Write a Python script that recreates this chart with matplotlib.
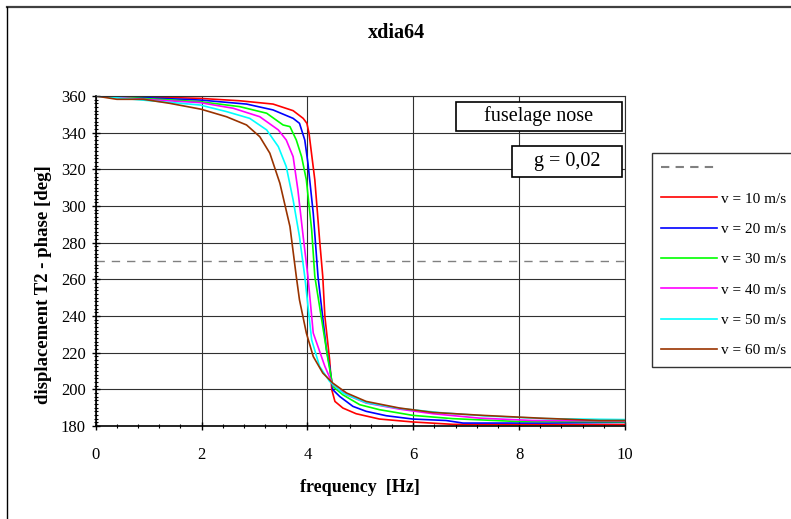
import numpy as np
import matplotlib
matplotlib.use('Agg')
import matplotlib.pyplot as plt
from matplotlib.lines import Line2D
from matplotlib.patches import Rectangle
from matplotlib.ticker import MultipleLocator

plt.rcParams['font.family'] = ['Liberation Serif', 'DejaVu Serif']

# valeurs (frequence en Hz, phase en deg)
f_10 = [0, 1.0, 1.97, 2.72, 3.35, 3.73, 3.92, 3.99, 4.03, 4.14, 4.23, 4.29, 4.33, 4.42, 4.46,
        4.52, 4.67, 4.92, 5.36, 5.99, 6.75, 8.0, 10]
p_10 = [360, 359.5, 358.7, 357.4, 355.6, 352, 347.8, 345.1, 339.7, 314.2, 281.5, 261.5, 239.7, 216, 199.8,
        193.4, 189.8, 186.7, 183.8, 182.2, 180.9, 180.8, 180.8]

f_20 = [0, 1.0, 1.97, 2.85, 3.35, 3.73, 3.85, 3.95, 4.01, 4.11, 4.2, 4.36, 4.42, 4.48,
        4.61, 4.86, 5.11, 5.49, 5.99, 6.62, 6.94, 8.5, 10]
p_20 = [360, 359, 357.8, 355.6, 352.4, 347.8, 345.1, 336, 323.3, 296, 261.5, 221.6, 212.5, 199.8,
        196.1, 190.7, 188, 185.6, 183.8, 183, 181.6, 181.6, 182]

f_30 = [0, 1.0, 1.97, 2.72, 3.23, 3.54, 3.67, 3.79, 3.89, 3.98, 4.08, 4.14, 4.26, 4.39, 4.48,
        4.67, 4.99, 5.36, 5.99, 6.75, 7.94, 10]
p_30 = [360, 358.5, 356.9, 354.2, 350.6, 344.2, 343.3, 336, 326.9, 314.2, 287, 261.5, 239.7, 216, 201.6,
        197, 191.6, 188.9, 185.8, 184, 182.5, 182.3]

f_40 = [0, 1.0, 1.97, 2.6, 3.1, 3.45, 3.6, 3.73, 3.82, 3.92, 4.01, 4.11, 4.33, 4.48,
        4.74, 5.11, 5.74, 6.37, 7.25, 8.25, 10]
p_40 = [360, 358, 356.4, 353.3, 348.7, 341.5, 336, 326.9, 308.8, 283.3, 261.5, 230.7, 212.5, 202.5,
        197, 192.5, 189.2, 186.7, 184.3, 183, 182.8]

f_50 = [0, 1.0, 1.97, 2.47, 2.91, 3.23, 3.45, 3.6, 3.73, 3.85, 3.95, 4.08, 4.23, 4.42,
        4.67, 5.11, 5.74, 6.5, 7.37, 8.51, 10]
p_50 = [360, 357.5, 355.1, 351.5, 347.8, 341.5, 332.4, 321.5, 303.3, 283.3, 261.5, 227, 212.5, 204.3,
        198, 192.7, 189.6, 187.3, 185.5, 184, 183.5]

f_60 = [0, 0.4, 0.9, 1.4, 1.99, 2.47, 2.85, 3.1, 3.29, 3.48, 3.67, 3.79, 3.85, 3.98, 4.11, 4.29,
        4.48, 4.74, 5.11, 5.74, 6.37, 7.31, 8.38, 9.51, 10]
p_60 = [360, 358.2, 358.2, 356, 352.8, 348.7, 344.2, 337.8, 328.8, 312.4, 288.8, 261.5, 248.8, 230.7, 217.9, 208.9,
        203.4, 198, 193.4, 189.8, 187.4, 185.8, 184.3, 183, 183]

labels = ['v = 10 m/s', 'v = 20 m/s', 'v = 30 m/s', 'v = 40 m/s', 'v = 50 m/s', 'v = 60 m/s']
colors = ['#FF0000', '#0000FF', '#00FF00', '#FF00FF', '#00FFFF', '#993300']
phase_ref = 270

W, H = 791, 519
fig = plt.figure(figsize=(W / 100, H / 100), dpi=100)

def fx(px):
    return px / W

def fy(py):
    return 1 - py / H

ax = fig.add_axes([fx(95.7), fy(426), fx(625) - fx(95.7), fy(96) - fy(426)])

ax.axhline(phase_ref, color='#808080', lw=1.0, dashes=(6, 5))
series = [(f_10, p_10), (f_20, p_20), (f_30, p_30), (f_40, p_40), (f_50, p_50), (f_60, p_60)]
handles = [Line2D([], [], color='#808080', lw=1.5, dashes=(4, 3))]
for (f, p), lab, c in zip(series, labels, colors):
    l, = ax.plot(f, p, color=c, lw=1.2, label=lab)
    handles.append(l)

ax.set_xlim(0, 10)
ax.set_ylim(180, 360)
ax.xaxis.set_major_locator(MultipleLocator(2))
ax.xaxis.set_minor_locator(MultipleLocator(0.4))
ax.yaxis.set_major_locator(MultipleLocator(20))
ax.yaxis.set_minor_locator(MultipleLocator(2))
ax.grid(True, which='major', color='#303030', lw=0.8)
ax.tick_params(which='major', direction='inout', length=6, width=1, labelsize=12)
ax.tick_params(which='minor', direction='inout', length=3, width=0.8)
ax.tick_params(axis='x', which='major', pad=12)
ax.tick_params(axis='y', which='major', pad=4)
for s in ['top', 'right']:
    ax.spines[s].set_color('#303030')
    ax.spines[s].set_linewidth(0.8)
for s in ['left', 'bottom']:
    ax.spines[s].set_linewidth(1.2)

ax.set_xlabel('frequency  [Hz]', fontweight='bold', fontsize=13, labelpad=12)
ax.set_ylabel('displacement T2 - phase [deg]', fontweight='bold', fontsize=13.5, va='center')
ax.yaxis.set_label_coords(-0.099, 0.427)
fig.text(fx(396), fy(33), 'xdia64', ha='center', va='center', fontweight='bold', fontsize=14.5)

# boites de texte
for (x0, y0, x1, y1), txt in [((456, 102, 622, 131), 'fuselage nose'),
                              ((512, 146, 622, 177), 'g = 0,02')]:
    fig.patches.append(Rectangle((fx(x0), fy(y1)), fx(x1) - fx(x0), fy(y0) - fy(y1),
                                 transform=fig.transFigure, fc='white', ec='black', lw=1.2))
    fig.text(fx((x0 + x1) / 2), fy((y0 + y1) / 2), txt, ha='center', va='center', fontsize=14.5)

# cadre exterieur
fig.add_artist(Line2D([fx(7), 1], [fy(7), fy(7)], color='#404040', lw=1.6))
fig.add_artist(Line2D([fx(7), fx(7)], [fy(7), 0], color='black', lw=1.0))

leg = fig.legend(handles, [''] + labels, loc='upper left', bbox_to_anchor=(fx(651.5), fy(152.5)),
                 fontsize=11, frameon=True, fancybox=False, edgecolor='black',
                 handlelength=3.7, handletextpad=0.26, labelspacing=1.09, borderpad=0.6,
                 borderaxespad=0)
leg.get_frame().set_linewidth(1.0)

plt.savefig('out.png', dpi=100)
